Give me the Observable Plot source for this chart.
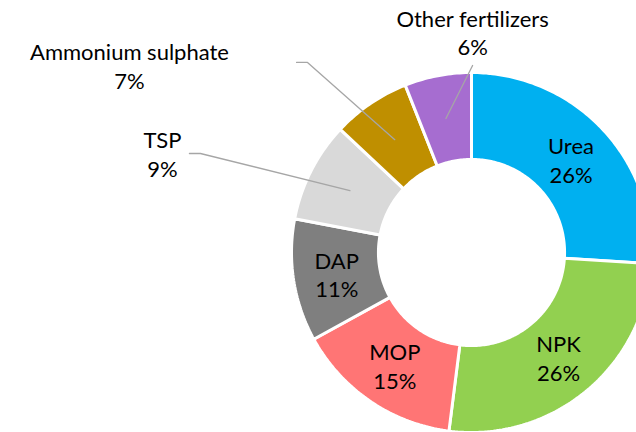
<!DOCTYPE html>
<html>
<head>
<meta charset="utf-8">
<script src="https://cdn.jsdelivr.net/npm/d3@7"></script>
<script src="https://cdn.jsdelivr.net/npm/@observablehq/plot@0.6"></script>
<style>
  html, body { margin: 0; padding: 0; background: #fff; }
</style>
</head>
<body>
<div id="chart"></div>
<script>
// ---- data ----
const categories = ["Urea", "NPK", "MOP", "DAP", "TSP", "Ammonium sulphate", "Other fertilizers"];
const shares = [26, 26, 15, 11, 9, 7, 6];
const colors = ["#00B0F0", "#92D050", "#FF7575", "#7F7F7F", "#D9D9D9", "#BF8F00", "#A66DD0"];

// ---- layout (in units of the outer radius, origin = donut centre) ----
const outerR = 1, innerR = 0.517, labelR = 0.758;
const outsideLabels = [
  {name: "TSP", x: -1.717, y: 0.552, lead: [[-1.567, 0.55], [-1.506, 0.55]]},
  {name: "Ammonium sulphate", x: -1.90, y: 1.04, lead: [[-0.972, 1.056], [-0.911, 1.056]]},
  {name: "Other fertilizers", x: 0.006, y: 1.225, lead: [[0.006, 1.039]]}
];

const total = d3.sum(shares);
const rows = categories.map((c, i) => ({name: c, value: shares[i], color: colors[i]}));
let acc = 0;
for (const r of rows) {
  r.a0 = acc / total * 2 * Math.PI;
  acc += r.value;
  r.a1 = acc / total * 2 * Math.PI;
  r.mid = (r.a0 + r.a1) / 2;
  r.label = `${r.name}\n${Math.round(r.value / total * 100)}%`;
}
const px = (r, a) => r * Math.sin(a);
const py = (r, a) => r * Math.cos(a);

// wedge outlines
const wedgePts = [];
for (const r of rows) {
  const n = Math.max(8, Math.ceil((r.a1 - r.a0) * 60));
  for (let k = 0; k <= n; k++) {
    const a = r.a0 + (r.a1 - r.a0) * k / n;
    wedgePts.push({name: r.name, color: r.color, x: px(outerR, a), y: py(outerR, a)});
  }
  for (let k = n; k >= 0; k--) {
    const a = r.a0 + (r.a1 - r.a0) * k / n;
    wedgePts.push({name: r.name, color: r.color, x: px(innerR, a), y: py(innerR, a)});
  }
}

const outsideSet = new Set(outsideLabels.map(d => d.name));
const insideRows = rows.filter(r => !outsideSet.has(r.name));
const outsideRows = outsideLabels.map(o => ({...o, ...rows.find(r => r.name === o.name)}));

const leaderPts = [];
for (const o of outsideRows) {
  for (const [x, y] of o.lead) leaderPts.push({name: o.name, x, y});
  leaderPts.push({name: o.name, x: px(labelR, o.mid), y: py(labelR, o.mid)});
}

const W = 636, H = 432, R = 180, cx = 471, cy = 252;

const chart = Plot.plot({
  width: W,
  height: H,
  margin: 0,
  style: {background: "#fff", overflow: "hidden"},
  x: {domain: [-cx / R, (W - cx) / R], axis: null},
  y: {domain: [-(H - cy) / R, cy / R], axis: null},
  color: {type: "identity"},
  marks: [
    Plot.line(wedgePts, {x: "x", y: "y", z: "name", fill: "color", stroke: "#fff", strokeWidth: 3, curve: "linear-closed", strokeLinejoin: "miter"}),
    Plot.line(leaderPts, {x: "x", y: "y", z: "name", stroke: "#A6A6A6", strokeWidth: 1.3}),
    Plot.text(insideRows, {x: d => px(labelR, d.mid), y: d => py(labelR, d.mid), text: "label", fontSize: 22, lineHeight: 1.3, fill: "#000", fontFamily: "Lato, sans-serif"}),
    Plot.text(outsideRows, {x: "x", y: "y", text: "label", fontSize: 22, lineHeight: 1.3, fill: "#000", fontFamily: "Lato, sans-serif"})
  ]
});
document.getElementById("chart").appendChild(chart);
</script>
</body>
</html>
